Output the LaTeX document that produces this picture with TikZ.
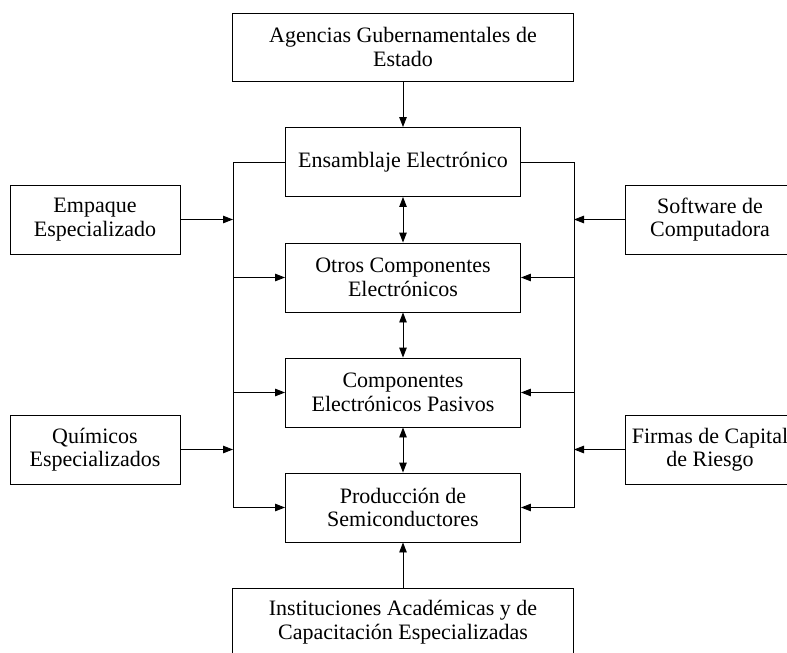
\documentclass[tikz,border=0pt]{standalone}
\usepackage{fontspec}
\setmainfont{Liberation Serif}
\usetikzlibrary{arrows.meta}
\begin{document}
\begin{tikzpicture}[x=1pt,y=-1pt,
  box/.style={draw, line width=0.9pt, align=center, inner sep=2pt,
    font=\fontsize{22}{23.5}\selectfont},
  mainbox/.style={box, minimum width=235pt, minimum height=69pt},
  sidebox/.style={box, minimum width=170pt, minimum height=69pt},
  widebox/.style={box, minimum width=341pt, minimum height=68pt},
  link/.style={line width=0.9pt},
  arr/.style={link, -{Triangle[length=10pt,width=7.5pt]}},
  darr/.style={link, {Triangle[length=10pt,width=7.5pt]}-{Triangle[length=10pt,width=7.5pt]}}]
\useasboundingbox (0,0) rectangle (787,653);
\node[widebox] (age) at (403,47) {Agencias Gubernamentales de\\Estado};
\node[mainbox] (ens) at (403,162) {Ensamblaje Electrónico};
\node[mainbox] (otr) at (403,277.5) {Otros Componentes\\Electrónicos};
\node[mainbox] (com) at (403,392.5) {Componentes\\Electrónicos Pasivos};
\node[mainbox] (pro) at (403,507.5) {Producción de\\Semiconductores};
\node[widebox] (ins) at (403,622) {Instituciones Académicas y de\\Capacitación Especializadas};
\node[sidebox] (emp) at (95,219.5) {Empaque\\Especializado};
\node[sidebox] (qui) at (95,449.5) {Químicos\\Especializados};
\node[sidebox] (sof) at (710,219.5) {Software de\\Computadora};
\node[sidebox] (fir) at (710,449.5) {Firmas de Capital\\de Riesgo};
\coordinate (LT) at (233,162);
\coordinate (RT) at (574,162);
% vertical links
\draw[arr] (age.south) -- (ens.north);
\draw[darr] (ens.south) -- (otr.north);
\draw[darr] (otr.south) -- (com.north);
\draw[darr] (com.south) -- (pro.north);
\draw[arr] (ins.north) -- (pro.south);
% left bus
\draw[arr] (ens.west) -- (LT) -- (LT |- pro.west) -- (pro.west);
\draw[arr] (LT |- otr.west) -- (otr.west);
\draw[arr] (LT |- com.west) -- (com.west);
\draw[arr] (emp.east) -- (emp.east -| LT);
\draw[arr] (qui.east) -- (qui.east -| LT);
% right bus
\draw[arr] (ens.east) -- (RT) -- (RT |- pro.east) -- (pro.east);
\draw[arr] (RT |- otr.east) -- (otr.east);
\draw[arr] (RT |- com.east) -- (com.east);
\draw[arr] (sof.west) -- (sof.west -| RT);
\draw[arr] (fir.west) -- (fir.west -| RT);
\end{tikzpicture}
\end{document}
